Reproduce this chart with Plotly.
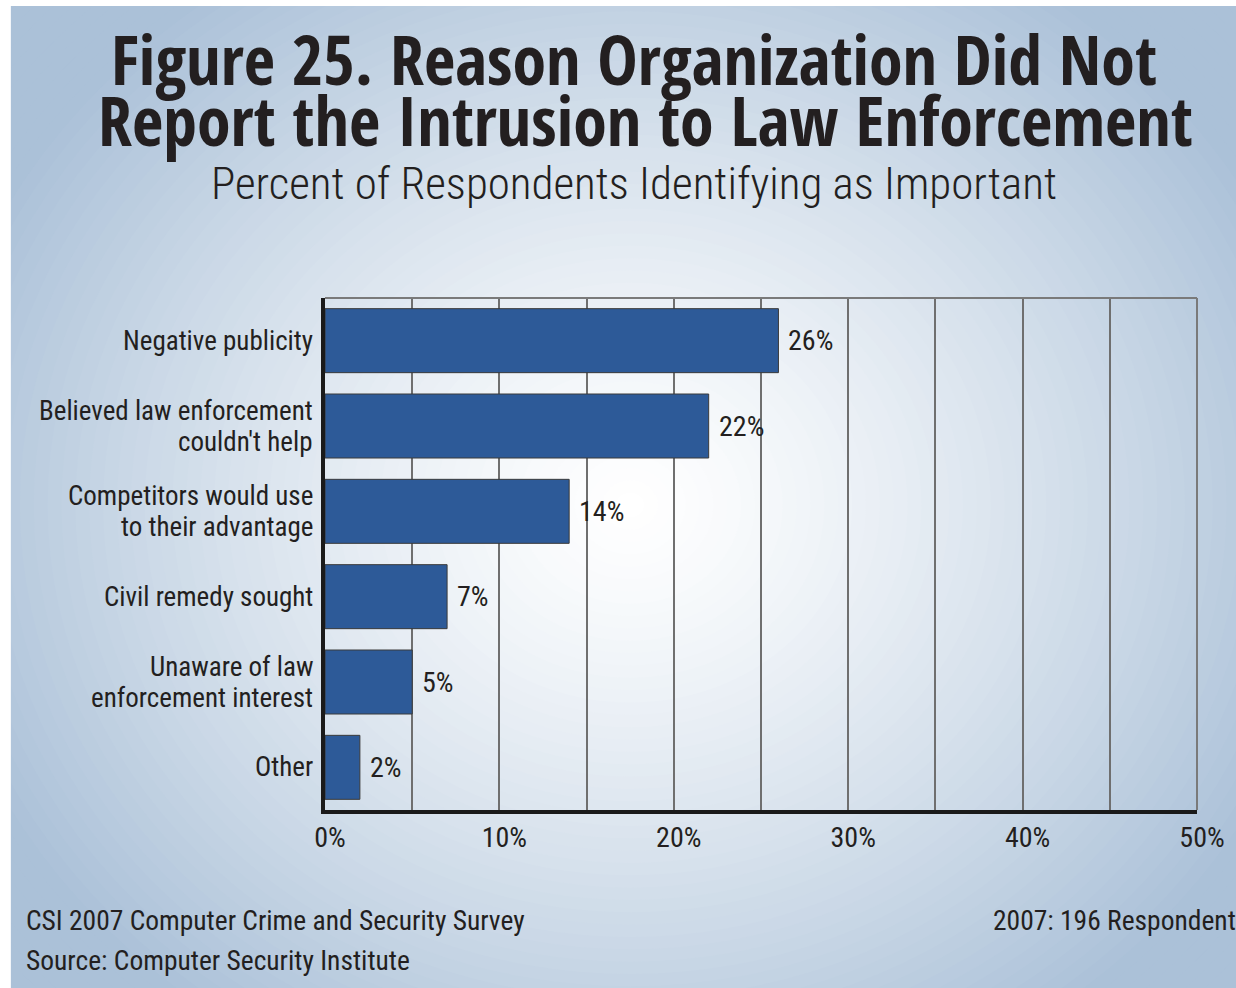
import plotly.graph_objects as go

# ---- data ----
categories = [
    "Negative publicity",
    "Believed law enforcement<br>couldn't help",
    "Competitors would use<br>to their advantage",
    "Civil remedy sought",
    "Unaware of law<br>enforcement interest",
    "Other",
]
values = [26, 22, 14, 7, 5, 2]
tick_vals = [0, 5, 10, 15, 20, 25, 30, 35, 40, 45, 50]
tick_text = ["0%", "", "10%", "", "20%", "", "30%", "", "40%", "", "50%"]

title_line1 = "Figure 25. Reason Organization Did Not"
title_line2 = "Report the Intrusion to Law Enforcement"
subtitle = "Percent of Respondents Identifying as Important"
footer_left1 = "CSI 2007 Computer Crime and Security Survey"
footer_left2 = "Source: Computer Security Institute"
footer_right = "2007: 196 Respondents"

# ---- layout geometry (pixels) ----
FW, FH = 1236, 988
L, R, T, B = 324.5, 38.5, 298, 178
W = FW - L - R
H = FH - T - B


def px(x):
    return (x - L) / W


def py(y):
    return (FH - B - y) / H


FONT = "Roboto Condensed, Open Sans Condensed, sans-serif"
TFONT = "Open Sans Condensed, Roboto Condensed, sans-serif"
TXT = "#231f20"

fig = go.Figure()
fig.add_trace(go.Bar(
    x=values,
    y=categories,
    orientation="h",
    width=0.75,
    marker=dict(color="#2d5a98", line=dict(color="#3a3a3a", width=1)),
    hoverinfo="skip",
    cliponaxis=False,
))

# value labels
for c, v in zip(categories, values):
    fig.add_annotation(x=v, y=c, xref="x", yref="y", text=f"{v}%",
                       showarrow=False, xanchor="left", xshift=8,
                       font=dict(family=FONT, size=28, color=TXT))

# category labels (drawn as annotations for tighter line spacing)
LINE_GAP = 31
for c in categories:
    lines = c.split("<br>")
    n = len(lines)
    for k, ln in enumerate(lines):
        off = ((n - 1) / 2 - k) * LINE_GAP
        fig.add_annotation(x=0, y=c, xref="paper", yref="y", text=ln,
                           showarrow=False, xanchor="right", yanchor="middle",
                           xshift=-10, yshift=off,
                           font=dict(family=FONT, size=27, color=TXT))

# ---- background radial gradient (decorative) ----
shapes = []
cx, cy, rx, ry = 630, 505, 720, 640
edge = (171, 193, 216)
N = 70
dmax = 1.35
for i in range(N + 1):
    d = dmax * (1 - i / N)
    t = min(1.0, d) ** 1.3
    col = tuple(round(255 + (e - 255) * t) for e in edge)
    shapes.append(dict(
        type="circle", xref="paper", yref="paper", layer="below",
        x0=px(cx - rx * d), x1=px(cx + rx * d),
        y0=py(cy + ry * d), y1=py(cy - ry * d),
        fillcolor="rgb(%d,%d,%d)" % col, line=dict(width=0),
    ))
# white outer strips
shapes.append(dict(type="rect", xref="paper", yref="paper", layer="below",
                   x0=px(-5), x1=px(10), y0=py(FH + 5), y1=py(-5),
                   fillcolor="white", line=dict(width=0)))
shapes.append(dict(type="rect", xref="paper", yref="paper", layer="below",
                   x0=px(-5), x1=px(FW + 5), y0=py(6), y1=py(-5),
                   fillcolor="white", line=dict(width=0)))
# plot frame: top and right thin gray
shapes.append(dict(type="line", xref="paper", yref="paper", layer="above",
                   x0=0, x1=1, y0=1, y1=1, line=dict(color="#7a7a7a", width=2)))
shapes.append(dict(type="line", xref="paper", yref="paper", layer="above",
                   x0=1, x1=1, y0=0, y1=1, line=dict(color="#7a7a7a", width=2)))

fig.update_layout(shapes=shapes)

# titles and footer
fig.add_annotation(x=px(634), y=py(58), xref="paper", yref="paper", text="<b>" + title_line1 + "</b>",
                   showarrow=False, xanchor="center", yanchor="middle",
                   font=dict(family=TFONT, size=68, color=TXT))
fig.add_annotation(x=px(645), y=py(119), xref="paper", yref="paper", text="<b>" + title_line2 + "</b>",
                   showarrow=False, xanchor="center", yanchor="middle",
                   font=dict(family=TFONT, size=68, color=TXT))
fig.add_annotation(x=px(634), y=py(183), xref="paper", yref="paper", text=subtitle,
                   showarrow=False, xanchor="center", yanchor="middle",
                   font=dict(family=FONT, size=45, color=TXT, weight=300))
fig.add_annotation(x=px(23), y=py(920), xref="paper", yref="paper", text=footer_left1,
                   showarrow=False, xanchor="left", yanchor="middle",
                   font=dict(family=FONT, size=27.5, color=TXT))
fig.add_annotation(x=px(23), y=py(960), xref="paper", yref="paper", text=footer_left2,
                   showarrow=False, xanchor="left", yanchor="middle",
                   font=dict(family=FONT, size=27.5, color=TXT))
fig.add_annotation(x=px(991), y=py(920), xref="paper", yref="paper", text=footer_right,
                   showarrow=False, xanchor="left", yanchor="middle",
                   font=dict(family=FONT, size=27.5, color=TXT))

fig.update_layout(
    width=FW, height=FH,
    margin=dict(l=L, r=R, t=T, b=B, autoexpand=False),
    paper_bgcolor="white",
    plot_bgcolor="rgba(0,0,0,0)",
    showlegend=False,
    bargap=0.25,
)
fig.update_xaxes(
    range=[0, 50], tickvals=tick_vals, ticktext=tick_text,
    showgrid=True, gridcolor="#6f6f6f", gridwidth=1.5,
    showline=True, linecolor="#1a1a1a", linewidth=3.5,
    zeroline=False, ticks="", ticklabelstandoff=0, ticklabelshift=5, automargin=False,
    tickfont=dict(family=FONT, size=28, color=TXT),
    fixedrange=True,
)
fig.update_yaxes(
    autorange="reversed",
    showgrid=False, showline=True, linecolor="#1a1a1a", linewidth=3.5,
    ticks="", showticklabels=False, automargin=False,
    fixedrange=True,
)

fig.write_html(
    "out.html",
    config={"displayModeBar": False},
    post_script="document.body.style.margin='0';document.body.style.overflow='hidden';",
)
